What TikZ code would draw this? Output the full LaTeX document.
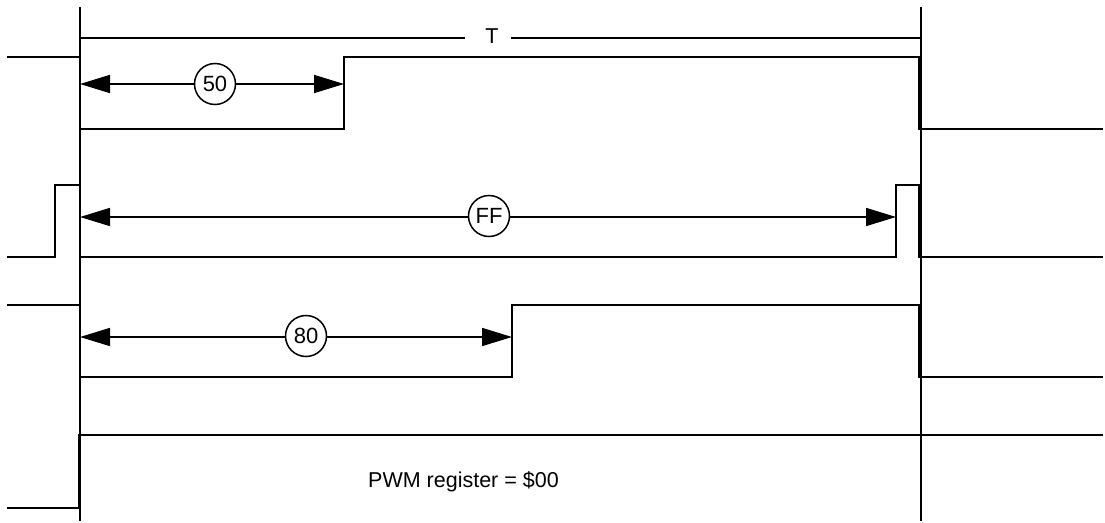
\documentclass[tikz,border=0pt]{standalone}
\usepackage{fontspec}
\setmainfont{Liberation Sans}
\usetikzlibrary{arrows.meta}
\begin{document}
\begin{tikzpicture}[x=1pt,y=-1pt,
  sig/.style={line width=1.8pt,line cap=butt,line join=miter},
  cursor/.style={line width=2.2pt},
  dimarrow/.style={line width=1.6pt,{Triangle[length=30pt,width=18pt]}-{Triangle[length=30pt,width=18pt]}},
  circlabel/.style={circle,draw,line width=1.5pt,fill=white,minimum size=41pt,inner sep=0pt,font=\fontsize{22}{24}\selectfont},
  txt/.style={inner sep=0pt,font=\fontsize{21.5}{24}\selectfont}]
\useasboundingbox (0,0) rectangle (1105,522);
% cursors
\coordinate (LT) at (80,7); \coordinate (LB) at (80,521);
\coordinate (RT) at (921,7); \coordinate (RB) at (921,521);
\draw[cursor] (LT) -- (LB);
\draw[cursor] (RT) -- (RB);
% period T
\node[txt,anchor=base] (T) at (492,43.5) {T};
\coordinate (T1) at (80,38); \coordinate (T2) at (465,38);
\coordinate (T3) at (511,38); \coordinate (T4) at (921,38);
\draw[sig] (T1) -- (T2);
\draw[sig] (T3) -- (T4);
% signal 1 (50)
\draw[sig] (7,57) -- (80,57) -- (80,129) -- (344,129) -- (344,57) -- (919,57) -- (919,129) -- (1103,129);
\coordinate (A1L) at (80,84); \coordinate (A1R) at (344,84);
\draw[dimarrow] (A1L) -- (A1R);
\node[circlabel] (c50) at (215,84) {50};
% signal 2 (FF)
\draw[sig] (7,257) -- (55,257) -- (55,185) -- (80,185) -- (80,257) -- (896,257) -- (896,185) -- (919,185) -- (919,257) -- (1103,257);
\coordinate (A2L) at (80,217); \coordinate (A2R) at (896,217);
\draw[dimarrow] (A2L) -- (A2R);
\node[circlabel] (cFF) at (489,216) {FF};
% signal 3 (80)
\draw[sig] (7,305) -- (80,305) -- (80,377) -- (512,377) -- (512,305) -- (919,305) -- (919,377) -- (1103,377);
\coordinate (A3L) at (80,337); \coordinate (A3R) at (512,337);
\draw[dimarrow] (A3L) -- (A3R);
\node[circlabel] (c80) at (306,336) {80};
% signal 4 ($00)
\draw[sig] (7,508) -- (79,508) -- (79,435) -- (1103,435);
\node[txt,anchor=base west] (pwm) at (368,487) {PWM register = \$00};
\end{tikzpicture}
\end{document}
